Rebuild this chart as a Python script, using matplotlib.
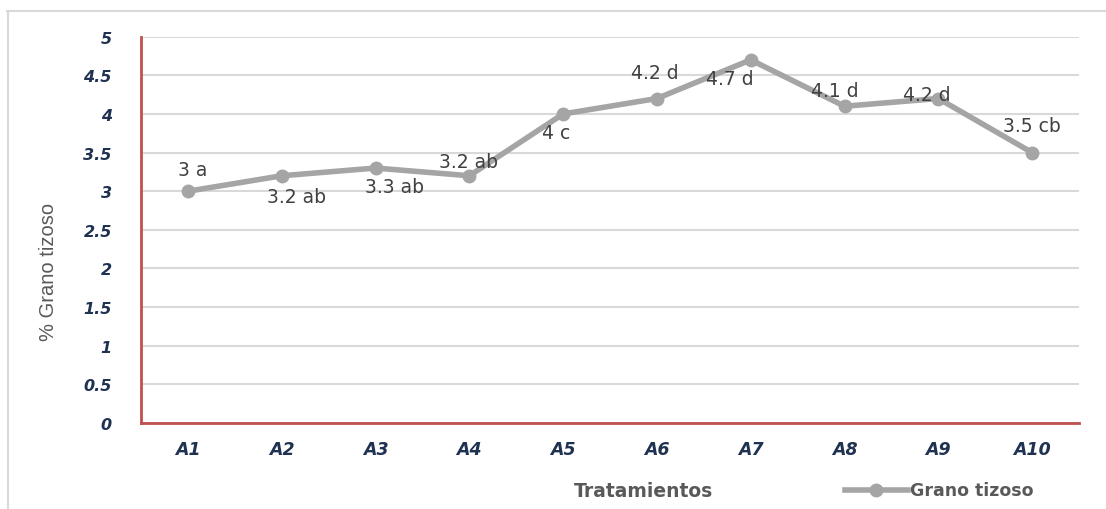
import matplotlib
matplotlib.use("Agg")
import matplotlib.pyplot as plt
from matplotlib.lines import Line2D
from matplotlib.font_manager import FontProperties

# Data
tratamientos = ["A1", "A2", "A3", "A4", "A5", "A6", "A7", "A8", "A9", "A10"]
grano_tizoso = [3.0, 3.2, 3.3, 3.2, 4.0, 4.2, 4.7, 4.1, 4.2, 3.5]
letras = ["a", "ab", "ab", "ab", "c", "d", "d", "d", "d", "cb"]
y_ticks = [0, 0.5, 1, 1.5, 2, 2.5, 3, 3.5, 4, 4.5, 5]

# Label offsets (pixels) for each data label
label_offsets = [(5, 22), (15, -21), (19, -18), (-1, 14), (-7, -19),
                 (-2, 26), (-21, -19), (-10, 16), (-11, 4), (0, 27)]

W, H = 1106, 510
fig = plt.figure(figsize=(W / 100, H / 100), dpi=100)

# Outer chart frame (top and left edges)
fig.add_artist(Line2D([7 / W, 1.0], [1 - 12 / H, 1 - 12 / H], color="#d9d9d9", lw=1.5))
fig.add_artist(Line2D([8 / W, 8 / W], [0, 1 - 12 / H], color="#d9d9d9", lw=1.5))

left, right = 141 / W, 1079 / W
bottom, top = 1 - 424 / H, 1 - 37.7 / H
ax = fig.add_axes([left, bottom, right - left, top - bottom])

x = list(range(len(tratamientos)))
ax.plot(x, grano_tizoso, color="#a5a5a5", lw=4, marker="o", ms=9,
        markerfacecolor="#a5a5a5", markeredgecolor="#a5a5a5",
        solid_joinstyle="round", solid_capstyle="round", zorder=3,
        label="Grano tizoso")

for xi, v, l, (dx, dy) in zip(x, grano_tizoso, letras, label_offsets):
    ax.annotate(f"{v:g} {l}", (xi, v), xytext=(dx, dy), textcoords="offset pixels",
                ha="center", va="center", fontsize=13.5, color="#404040",
                family="DejaVu Sans", zorder=4)

ax.set_xlim(-0.5, len(tratamientos) - 0.5)
ax.set_ylim(0, 5)
ax.set_yticks(y_ticks)
ax.set_yticklabels([f"{t:g}" for t in y_ticks])
ax.set_xticks(x)
ax.set_xticklabels(tratamientos)

for lab in ax.get_xticklabels():
    lab.set_fontproperties(FontProperties(family="DejaVu Sans", weight="bold",
                                          style="italic", size=12.5))
    lab.set_color("#1f3251")
for lab in ax.get_yticklabels():
    lab.set_fontproperties(FontProperties(family="DejaVu Sans", weight="bold",
                                          style="italic", size=11.5))
    lab.set_color("#1f3251")
ax.tick_params(axis="both", length=0)
ax.tick_params(axis="x", pad=12)
ax.tick_params(axis="y", pad=21)

ax.grid(axis="y", color="#d9d9d9", lw=1.5)
ax.set_axisbelow(True)
for s in ["top", "right"]:
    ax.spines[s].set_visible(False)
for s in ["left", "bottom"]:
    ax.spines[s].set_color("#c0504d")
    ax.spines[s].set_linewidth(2)
    ax.spines[s].set_zorder(5)

fig.text(48 / W, 1 - 272 / H, "% Grano tizoso", rotation=90, ha="center", va="center",
         fontsize=14.5, color="#595959", family="Liberation Sans")
fig.text(644 / W, 1 - 492 / H, "Tratamientos", ha="center", va="center",
         fontsize=13.5, color="#595959", weight="bold", family="DejaVu Sans")

# Legend
ly = 1 - 491 / H
fig.add_artist(Line2D([845 / W, 908 / W], [ly, ly], color="#a5a5a5", lw=4))
fig.add_artist(Line2D([876 / W], [ly], color="#a5a5a5", marker="o", ms=9, lw=0))
fig.text(910 / W, ly, "Grano tizoso", ha="left", va="center",
         fontsize=12.5, color="#595959", weight="bold", family="DejaVu Sans")

fig.savefig("out.png", dpi=100, facecolor="white")
